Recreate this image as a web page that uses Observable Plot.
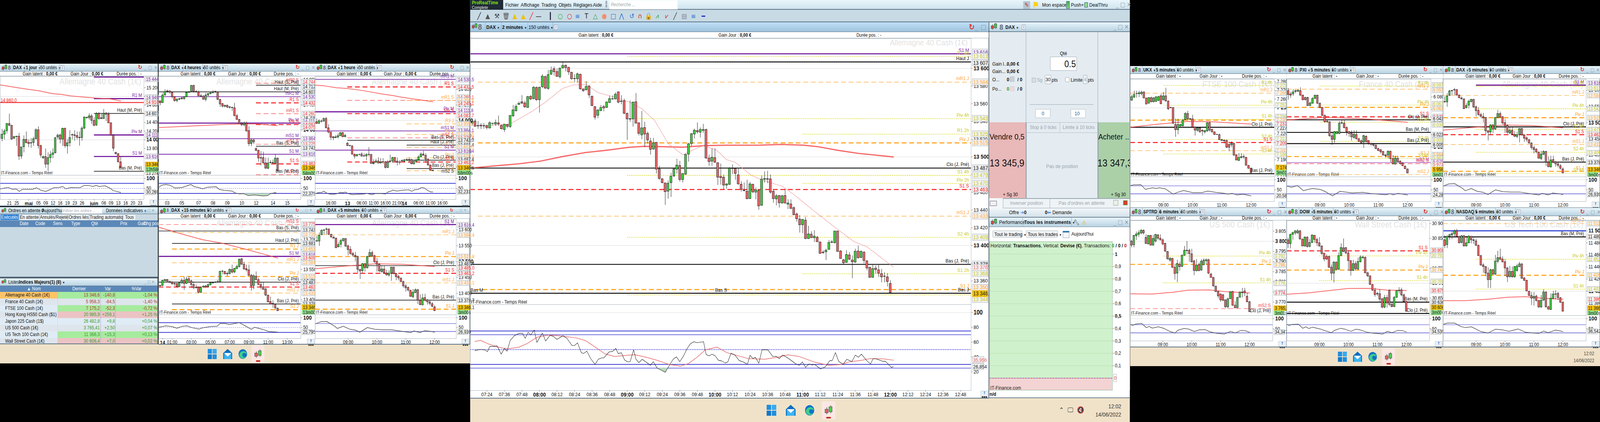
<!DOCTYPE html>
<html lang="fr"><head><meta charset="utf-8"><title>ProRealTime DAX</title>
<script src="https://cdn.jsdelivr.net/npm/d3@7"></script>
<script src="https://cdn.jsdelivr.net/npm/@observablehq/plot@0.6"></script>
<style>
html,body{margin:0;padding:0;background:#000;overflow:hidden}
#stage{position:absolute;left:0;top:0;width:4652px;height:1080px;background:#000;overflow:hidden;font-family:"Liberation Sans",Arial,sans-serif;color:#111;transform-origin:0 0}
#stage div{position:absolute;white-space:nowrap;box-sizing:border-box}
#stage svg{position:absolute;overflow:visible}
</style></head><body><div id="stage"></div>
<script>
// ---------- values: [open, close, high, low] ----------
const dax2m=[[13538,13540,13543,13535],[13540.3,13534.3,13542.7,13534],[13535.3,13534.8,13540.3,13531.6],[13535.6,13534.8,13537.9,13531.3],[13535.3,13534.8,13537.9,13531.6],[13535.1,13532.9,13536.4,13530.8],[13532.4,13538.4,13540.3,13532.1],[13537.6,13537.9,13537.9,13535.6],[13537,13538.7,13541.9,13534.8],[13538.3,13537,13546.5,13534.8],[13535.3,13531.6,13536.4,13530.8],[13530.7,13536.8,13537.1,13528],[13536.4,13534.3,13537.1,13532.4],[13534,13546.6,13546.6,13532.4],[13546.1,13552.9,13558.5,13545],[13551.8,13556.9,13559.2,13551.3],[13559.1,13560.3,13562.4,13558.5],[13562.1,13560.5,13569.5,13559.2],[13560.8,13556.4,13563.2,13555],[13555.6,13567.9,13568.7,13555.3],[13568.2,13565.2,13569.5,13563.7],[13565.5,13578.5,13579.8,13564.8],[13578.2,13564.3,13579.3,13563.2],[13564.4,13578.5,13579,13549.8],[13579,13591,13593.2,13577.4],[13590.5,13577.4,13591.6,13576.6],[13577.1,13592.7,13597.9,13575.5],[13593.2,13597.6,13601.8,13592.4],[13599.3,13596,13601.8,13591.6],[13596.2,13590.8,13599.5,13590],[13590.3,13599.8,13601,13588.4],[13600.3,13603,13606.6,13599.5],[13603.3,13600.7,13603.9,13596.3],[13601,13595.8,13601.4,13592.4],[13595.4,13588.1,13595.5,13586.9],[13588.4,13588.1,13593.2,13583.7],[13588,13593.6,13595,13583.7],[13593.2,13576.6,13593.5,13575.8],[13576.5,13574.5,13577,13573.4],[13575.5,13579.4,13585.3,13575],[13579.9,13569.8,13580.5,13566.3],[13568.4,13557.7,13568.7,13557.2],[13556.6,13544.6,13556.9,13541.9],[13546.8,13552.8,13553.7,13543.5],[13552.1,13555.6,13558.5,13551.3],[13556.6,13555.1,13558.5,13551.3],[13555.6,13561.8,13562.4,13555.3],[13561.1,13565.7,13568.7,13560.8],[13565.4,13565.1,13569.2,13564.4],[13565.2,13570.6,13572.6,13564.8],[13573.3,13561.6,13573.4,13560.3],[13562.9,13562.4,13569.5,13559.2],[13563.2,13549,13565.5,13548.2],[13549,13542.7,13549.8,13519],[13543,13542.4,13563.5,13539.5],[13542.7,13561.6,13562.4,13534],[13562.1,13537.9,13571.9,13537.6],[13538.3,13526.4,13538.7,13524],[13524.7,13532.6,13551.7,13519.8],[13532.9,13525.6,13539.5,13511.1],[13526.4,13519,13528.5,13515],[13517.7,13508.3,13521.4,13502.4],[13508.7,13515.8,13521.4,13508],[13516.3,13485.9,13516.6,13481.1],[13486.2,13475.4,13489.8,13474],[13475.1,13470.7,13475.6,13470.1],[13470.4,13460.6,13470.9,13445.6],[13461.1,13470.1,13473.2,13452.7],[13470.7,13478,13481.9,13454.6],[13478.3,13486.2,13487.4,13477.2],[13485.9,13490.6,13497.7,13481.1],[13490.1,13474.3,13495.3,13472],[13474.3,13481.1,13481.1,13470.9],[13480.3,13502.7,13503.2,13479.5],[13502.9,13514.6,13515.8,13494.5],[13514.9,13526,13526.9,13511.9],[13525.6,13530,13531.6,13520.6],[13529.6,13528.1,13538.7,13526.1],[13527.7,13530.8,13533.2,13521.8],[13529.6,13530.8,13537.1,13526.9],[13530.8,13498.5,13531.6,13497.7],[13498.5,13494.5,13502.4,13489.8],[13495,13499.4,13509.5,13489.8],[13499,13493.8,13509.5,13493],[13493.3,13476.9,13493.4,13468.2],[13477.7,13476.4,13492.2,13468.5],[13476.9,13468,13479.9,13463],[13467.9,13469.3,13470.1,13463.8],[13468.8,13487,13488.2,13468.2],[13486.7,13487,13491.4,13480.3],[13486.7,13481.1,13487.4,13474],[13479.5,13469.3,13486.7,13468.5],[13469,13463,13472.4,13460.6],[13461.9,13461.6,13470.9,13461.2],[13461,13452.6,13474,13451.9],[13452.7,13469.3,13471.7,13452.4],[13469,13460.3,13469.3,13459],[13460,13462.7,13465.3,13451.9],[13461.9,13444.5,13463,13440.1],[13445.1,13474.8,13478.8,13444.8],[13474.5,13475.4,13483.5,13470.9],[13475.3,13474.5,13484,13470.1],[13475,13460,13479.9,13458.2],[13461.1,13452.7,13462.2,13448],[13452.4,13455.9,13457.8,13445.1],[13456.2,13448,13456.7,13442.5],[13447.7,13455.9,13457.1,13447.2],[13456.2,13447.7,13463.8,13447.2],[13446.4,13447.7,13451.9,13440.9],[13446.7,13441.7,13451.9,13440.9],[13442.5,13434.6,13444,13433.8],[13435.4,13430,13437,13426.5],[13429.6,13423.2,13434.1,13414.4],[13423.2,13429.3,13429.6,13413.6],[13428.4,13407.6,13431.9,13406.8],[13407.6,13412.9,13422,13407.1],[13412.6,13408.6,13415.9,13408.3],[13408.5,13410.4,13417.1,13403.8],[13409.2,13404,13410.6,13403.8],[13403.8,13390.9,13404.1,13390.4],[13392.4,13391.6,13394.6,13390.4],[13392.7,13394.5,13396.2,13383.3],[13395.4,13403.3,13406,13395],[13403.4,13403.9,13406,13402.2],[13402.9,13416.2,13416.2,13402.2],[13416.2,13393.1,13416.2,13392.7],[13393.6,13385.1,13394.6,13384.8],[13383.6,13380.2,13384.8,13377.9],[13380.7,13389.6,13394.6,13380.2],[13389.2,13384.3,13392.4,13383.3],[13383.4,13381.3,13388.6,13362.8],[13381,13393.3,13396.2,13380.2],[13393.6,13385.8,13399.7,13385.2],[13386.3,13393.3,13393.9,13385.5],[13392.4,13382.8,13393.1,13379.5],[13382.5,13374.4,13382.8,13371.9],[13375.2,13363.8,13375.7,13363.2],[13363.8,13373.7,13377.9,13363.5],[13374.2,13372.6,13377.2,13368.1],[13372.3,13368.5,13377.9,13364.3],[13368.1,13364.3,13373.4,13358.2],[13365.3,13365,13369.6,13358.2],[13364.4,13359.1,13368.5,13353.6],[13357,13346.8,13360.5,13346.5]];
const maThickN=[-4.1,3.4,10.9,18.4,25.9,33.4,40.9,48.4,53.6,59.6,67.1,74.6,82,93.4,101,108.4,113.5,120,127,139];
const maThickV=[13487.9,13490.1,13492.2,13495.3,13500.4,13504.8,13507.5,13510.8,13511.9,13511.6,13511,13512.8,13513.2,13513.3,13514.1,13513.2,13511.4,13507.5,13504,13500];
const maDashN=[1.5,7.9,15.4,20.6,25.9,29.6,34,38,42.4,48.4,53,57.4,62,67,71,74,78.4,82,85,90.3,94,101,105,112,119,125.5,130,139];
const maDashV=[13535.6,13537.1,13551.3,13563.2,13577.4,13581.3,13581.6,13572.7,13568.7,13562.4,13554.5,13541.1,13515,13502.4,13508.7,13512.7,13508,13496.9,13493.8,13479.5,13474,13466.9,13457.5,13438.7,13420.5,13404.5,13398.5,13375.7];
const rsi2mN=[-4.1,-2.1,-0.7,0.2,1,2.6,3.5,4.9,6,6.9,8,9.4,11,12.2,13.1,14.1,15,16.2,17.1,19,20.1,21.6,22.7,24,26,27.4,29.1,30,31,32.3,33,34.2,35.5,37,38.1,39.2,40,41.8,43,44.1,44.9,46,47.1,48.2,49,50.2,51,52,53.1,54.4,55.9,56.9,58.2,59.8,61,62.3,63.7,64.8,66,67.2,68.5,69.6,70.8,71.9,74.1,75,76,77,78.1,79.2,80.3,81.5,82.4,83.5,84.8,86.3,87.7,89.1,90,91,91.8,93,94.1,96.1,97.8,98.9,100,101.2,102.9,105.7,106.8,107.9,109,110.2,111.3,112.1,114.1,115.8,117.3,118.1,119.2,120.3,121.8,123.1,124.8,126,127.1,128.1,129.9,131.2,132.1,133.3,135.3,136.3,137.2,138.3,139];
const rsi2mV=[48.7,50.2,49.6,47.1,54.2,54.2,55.1,43.8,51.5,47.8,62.4,68.7,72,72,65.1,73.3,69.6,76.5,59.6,72.4,61.5,69.3,67.8,63.8,68.7,65.1,55.5,55.5,59.1,46,44.6,47.8,37.8,30,36.9,38.7,38.7,46.9,47.5,51.5,44.6,45.7,36,33.3,33.7,49.6,36.9,32.4,36.9,33.3,28.8,33.7,25.1,22,19.3,27.9,36.9,40.2,33.7,41,51.5,57.8,60.6,59.3,60.6,43.3,41.5,43.8,41.5,35.5,34.7,31.8,33.3,45.1,42.7,35.1,33.3,30,42.4,37.8,39.7,31.5,49.6,49.6,40.6,41,37.8,42.7,38.7,30.6,28.8,33.3,26,30.6,29.1,30,23.8,26.9,35.1,35.1,46,34.2,30,36.9,33.7,42.4,39.7,43.8,35.1,30.6,37.8,37.3,34.2,34.2,30.6,26,26.9];
const rsiMa2mN=[-4.1,-2.1,0.4,3.8,7.1,11,13.9,17.3,21.2,25.7,30.2,33.6,36.4,40.4,43.7,47.1,50.5,54.4,57.8,62.3,66.3,69.1,71.9,74.7,78.7,82,86,89.4,95,99.5,102.9,106.8,111.9,116.9,120.9,124.3,128.2,131,135.5,139.1];
const rsiMa2mV=[60.9,62.4,57.8,53.3,51,53.3,58.4,66.9,69.6,68.2,66,62.4,55.1,44.2,40.6,42,43.1,39.7,36,30,27.5,31.5,39.7,49.6,53.3,46,41.5,37.8,36.9,39.7,42.9,40.6,33.3,28.8,29.7,33.7,35.5,37.8,37.5,35.7];

const dax1d=[[14027,14126,14246,13961],[14126,14201,14246,14006],[14207,14372,14381,14141],[14372,14330,14597,14306],[14330,14012,14336,14000],[14030,14072,14081,14021],[14072,14081,14081,13856],[14078,13622,14156,13532],[13622,13832,13832,13556],[13838,14006,14096,13706],[14006,13931,14186,13916],[13940,13910,14006,13826],[13922,13931,14036,13811],[13931,14021,14066,13856],[14021,14228,14261,14006],[14228,13862,14306,13796],[13862,13646,13886,13586],[13580,13610,13631,13556],[13610,13436,13796,13352],[13436,13586,13706,13280],[13586,13658,13736,13466],[13658,13694,13796,13571],[13694,14042,14066,13691],[14060,14102,14141,14006],[14108,14012,14141,13916],[14012,14261,14276,13856],[14261,13862,14276,13811],[13856,13928,14006,13676],[13928,14048,14216,13841],[14108,14117,14141,14006],[14111,14096,14216,13976],[14096,14054,14186,14006],[14054,14045,14186,13862],[14048,14264,14306,13976],[14264,14522,14531,14246],[14504,14513,14531,14486],[14504,14549,14606,14456],[14546,14444,14591,14366],[14444,14330,14516,14306],[14336,14600,14636,14315],[14600,14486,14636,14456],[14504,14486,14591,14471],[14486,14606,14705,14480],[14612,14582,14636,14426],[14582,14387,14630,14381],[14387,14105,14396,14090],[14105,13802,14126,13736],[13706,13676,13721,13661],[13676,13487,13691,13481],[13487,13352,13601,13346]];
const ma1dI=[-49.75,-45.6,-39.75,-33.9,-28.1,-24.75,-20.6,-14.75,-9.75,-4.75,0];
const ma1dV=[15266,15227,15176,15131,15062,15047,15011,14981,14960,14945,14897];
const rsi1dI=[-49.75,-48,-46.4,-44.75,-43.1,-41.9,-40.6,-36.4,-34.75,-33.1,-31,-28.9,-27.75,-25.6,-23.9,-22.7,-20.6,-16.9,-15.2,-13.1,-11.4,-10.2,-8.9,-6.4,-4.3,-3.1,0];
const rsi1dV=[46.8,52,54.5,45.5,46.8,35,45.5,45.5,53.2,41.6,35,45.5,53.2,54.5,59.7,48,54.5,53.2,64.3,64.3,59.7,64.9,59.7,63,50,39,29.9];

const dax4h=[[14460,14433,14470,14392],[14433,14553,14584,14429],[14553,14611,14646,14549],[14619,14611,14640,14590],[14621,14598,14625,14574],[14598,14528,14605,14501],[14528,14466,14536,14445],[14466,14491,14495,14439],[14487,14495,14512,14474],[14508,14495,14522,14481],[14495,14528,14536,14481],[14528,14596,14605,14522],[14596,14603,14619,14590],[14609,14706,14714,14598],[14706,14611,14718,14594],[14611,14605,14632,14594],[14605,14543,14625,14528],[14543,14536,14574,14522],[14536,14487,14553,14481],[14485,14553,14590,14454],[14553,14578,14590,14536],[14578,14588,14605,14563],[14588,14605,14632,14584],[14605,14611,14625,14584],[14605,14485,14611,14474],[14485,14412,14491,14367],[14417,14377,14429,14357],[14375,14392,14398,14357],[14392,14363,14402,14346],[14367,14359,14377,14336],[14359,14354,14367,14305],[14352,14226,14429,14218],[14226,14166,14253,14160],[14166,14102,14175,14098],[14104,14081,14129,14061],[14081,14108,14135,14057],[14108,13984,14135,13974],[13988,13782,14057,13742],[13784,13840,13860,13742],[13840,13809,13854,13777],[13705,13674,13722,13664],[13676,13554,13684,13494],[13560,13554,13664,13436],[13560,13478,13653,13467],[13478,13391,13560,13385],[13391,13474,13560,13374],[13480,13486,13519,13467],[13484,13476,13529,13461],[13471,13552,13612,13461],[13552,13347,13560,13343]];
const ma4hI=[-0.7,9,17.5,25.8,34,40.7,48.8];
const ma4hV=[14040,14057,14073,14088,14098,14098,14071];
const rsi4hI=[-0.7,0.6,2.3,4,6.1,9,12.8,14,16,17.7,19.8,23.3,24.6,26.7,30,31.3,33,34.7,36.8,39.3,42.7,44.8,46,48,48.8];
const rsi4hV=[54.5,66.2,69.5,66.2,52,54.5,69.5,59.7,54.5,48,56.5,58.4,45.5,40.3,37,27.3,22.7,24,14.3,17.5,12.3,14.3,24,29.2,24];
const rsi4hFill=[[31.5,25],[33,22.7],[34.7,24],[36.8,14.3],[39.3,17.5],[42.7,12.3],[44.8,14.3],[46,25]];

const dax1h=[[13981,13959,14023,13952],[13959,13993,14015,13956],[13986,13989,14010,13969],[13988,14023,14036,13986],[14023,13902,14043,13899],[13902,13847,13947,13830],[13847,13781,13850,13744],[13786,13774,13796,13741],[13774,13786,13808,13771],[13784,13801,13830,13763],[13801,13840,13847,13796],[13840,13786,13850,13783],[13788,13806,13821,13779],[13705,13672,13717,13667],[13675,13672,13682,13662],[13670,13563,13672,13556],[13563,13536,13566,13502],[13539,13556,13569,13532],[13558,13559,13569,13543],[13564,13537,13586,13532],[13541,13537,13573,13532],[13539,13559,13573,13482],[13561,13558,13653,13532],[13559,13442,13563,13438],[13438,13452,13494,13432],[13457,13474,13502,13452],[13474,13447,13522,13443],[13447,13460,13511,13443],[13464,13460,13511,13438],[13464,13391,13469,13376],[13391,13462,13485,13381],[13474,13469,13556,13455],[13474,13519,13527,13452],[13519,13474,13526,13465],[13472,13457,13519,13415],[13460,13457,13485,13427],[13475,13480,13495,13465],[13469,13489,13499,13460],[13487,13492,13511,13469],[13492,13487,13519,13452],[13494,13437,13502,13432],[13435,13469,13477,13432],[13469,13489,13499,13460],[13489,13527,13549,13482],[13527,13564,13586,13522],[13564,13547,13606,13542],[13547,13499,13573,13452],[13499,13422,13506,13415],[13422,13356,13427,13351],[13356,13348,13359,13346]];
const ma1hI=[-0.6,3.4,8.2,13,17.9,22.7,27.5,32.4,34.8,39.6,44.4,49];
const ma1hV=[14456,14446,14423,14413,14393,14369,14342,14320,14305,14283,14262,14241];
const rsi1hI=[-0.6,1,2.2,3,3.9,5.3,7.2,8.7,9.9,11.1,12.1,13.3,15,16.9,19.8,21.3,23.2,24.6,27.5,29,30,31.4,32.1,33.8,36.7,38.9,40.1,41.3,42.8,44.2,45.4,46.9,48.1,49];
const rsi1hV=[24,29.9,30.5,36.4,28.6,22,20.8,24,30.5,28.6,31.8,24,19.5,20.8,22,25.3,19.5,24,24,22,32.5,37,41.6,37,41.6,42.9,35.7,43.5,44.8,54.5,52,39,32.5,32.5];

const dax15m=[[13468,13470,13473,13465],[13470,13495,13499,13468],[13493,13500,13502,13492],[13500,13492,13502,13489],[13491,13485,13492,13482],[13487,13478,13491,13475],[13480,13478,13485,13468],[13480,13464,13482,13463],[13464,13483,13489,13463],[13483,13496,13506,13478],[13496,13480,13513,13448],[13480,13502,13514,13478],[13504,13493,13516,13482],[13493,13475,13499,13458],[13475,13459,13489,13451],[13461,13459,13475,13455],[13461,13436,13463,13432],[13436,13461,13465,13432],[13463,13466,13472,13458],[13463,13468,13472,13461],[13465,13474,13482,13461],[13473,13484,13489,13472],[13483,13485,13489,13478],[13485,13487,13492,13483],[13487,13489,13499,13485],[13488,13541,13543,13487],[13541,13542,13547,13526],[13540,13528,13543,13526],[13531,13528,13540,13516],[13529,13551,13554,13526],[13550,13537,13574,13530],[13537,13556,13557,13533],[13554,13565,13574,13552],[13564,13601,13605,13560],[13603,13576,13608,13574],[13576,13552,13588,13550],[13554,13548,13574,13540],[13548,13521,13574,13518],[13521,13468,13528,13444],[13470,13519,13526,13451],[13516,13499,13540,13496],[13499,13475,13509,13472],[13475,13463,13489,13451],[13463,13451,13487,13448],[13453,13422,13458,13418],[13422,13388,13424,13386],[13390,13378,13414,13376],[13381,13378,13396,13359],[13377,13358,13379,13349],[13357,13344,13359,13343]];
const ma15mI=[-0.6,9.1,17.5,25.9,34.3,42.7,49];
const ma15mV=[13762,13728,13700,13682,13656,13629,13608];
const rsi15mI=[-0.6,2.4,4.9,7,9.1,11.2,13.3,16.2,17.5,20.8,23.7,25,27.1,28.8,33,35.5,38,39.3,42.7,45.2,49];
const rsi15mV=[51.4,58.5,54.9,46.5,56.3,58.5,49.3,42.3,47.9,54.9,56.3,70.4,70.4,65.5,74.6,58.5,40.8,51.4,40.8,30.3,26.8];

const dax5m=[[13565,13564,13581,13562],[13564,13582,13591,13549],[13584,13598,13601,13583],[13598,13599,13602,13585],[13601,13602,13607,13585],[13602,13585,13603,13584],[13585,13577,13587,13575],[13576,13573,13581,13573],[13573,13543,13575,13542],[13546,13553,13560,13544],[13554,13566,13571,13544],[13565,13572,13573,13562],[13572,13548,13573,13546],[13549,13537,13553,13519],[13538,13525,13548,13521],[13525,13520,13530,13515],[13519,13515,13530,13501],[13516,13475,13517,13464],[13475,13470,13476,13445],[13471,13493,13495,13464],[13493,13480,13495,13468],[13480,13516,13517,13478],[13516,13528,13539,13514],[13528,13517,13534,13515],[13518,13499,13521,13495],[13500,13491,13511,13468],[13491,13470,13495,13466],[13468,13476,13487,13465],[13476,13464,13487,13462],[13463,13458,13474,13455],[13457,13463,13472,13452],[13463,13482,13482,13439],[13482,13462,13483,13460],[13462,13452,13464,13441],[13453,13448,13458,13441],[13447,13437,13450,13435],[13437,13423,13439,13417],[13423,13417,13429,13405],[13418,13410,13421,13405],[13409,13390,13411,13389],[13389,13403,13413,13384],[13402,13411,13415,13400],[13411,13378,13413,13366],[13378,13364,13396,13362],[13363,13385,13398,13362],[13386,13378,13398,13374],[13379,13373,13382,13364],[13373,13368,13378,13362],[13367,13359,13372,13355],[13357,13345,13362,13344]];
const ma5mI=[-0.7,12.25,24.75,36,49];
const ma5mV=[13477.5,13486.3,13493.1,13491.5,13484.3];
const rsi5mI=[-0.5,1.6,4.1,7.25,8.5,11,13.5,16,17.9,21,24.1,27.25,31,36,39.1,40.4,42.9,44.75,47.25,49];
const rsi5mV=[69.2,79.5,80.8,58.3,45.5,56.4,42.3,37.2,26.3,50,41,39.1,39.1,29.5,24.4,32.7,24.4,34,30.8,26.3];

const ukx5m=[[7258.5,7262.5,7265,7258],[7262,7265,7269.5,7261],[7266,7266.2,7269.5,7261.5],[7266,7267,7269.5,7262],[7266,7267.7,7269.5,7264],[7268,7261,7268.7,7261],[7261,7254,7261.5,7254],[7255,7261.5,7262,7255],[7261.5,7256.7,7262.5,7256],[7256.7,7261.2,7262,7256],[7257,7262.4,7263,7256.7],[7258.2,7262.7,7263.5,7257.5],[7263.5,7254.5,7265.7,7253.7],[7259,7263.5,7268,7258.2],[7263.5,7257.5,7272.8,7257],[7257.5,7248.5,7258.2,7247],[7250,7250.3,7250.7,7249],[7250,7232,7250.4,7231.2],[7230.5,7224.5,7237.2,7216.2],[7224.5,7230.5,7237.2,7219.2],[7228.7,7230.5,7231.2,7228.2],[7229,7235.7,7236.5,7228.2],[7236,7243.2,7244.7,7235.7],[7243.2,7237,7246.2,7235.7],[7237.2,7236.5,7238,7235.7],[7237,7227.5,7241.7,7226.7],[7227.5,7224,7228.2,7217.7],[7223.7,7226.5,7227.5,7222.2],[7226.5,7222.2,7227.5,7220.7],[7223.7,7223,7225.2,7217.7],[7222,7223.5,7224,7220],[7223,7232.5,7233.5,7222.2],[7232.7,7224,7233.5,7222.2],[7225,7222.2,7225.5,7220.7],[7222,7219,7222.5,7218.3],[7219.2,7219,7219.5,7218.3],[7218.8,7213,7220,7212.5],[7213,7212,7214,7211.7],[7212.5,7211.7,7213,7208.7],[7212,7204.2,7213.2,7203.5],[7207.5,7204.2,7208.7,7199.7],[7207,7209,7211,7204.2],[7208.7,7195.2,7209,7194.5],[7195.5,7189.5,7196,7189.2],[7189,7192.5,7197.5,7188.5],[7192.2,7193.5,7197.5,7191.5],[7193.5,7193,7196,7191],[7192.7,7183.5,7193,7183.2],[7183.2,7180,7184,7179.5],[7180,7175,7181,7174.5]];
const maUkxI=[-0.6,11.1,23.1,32,49];
const maUkxV=[7227.5,7231.2,7234.2,7234,7231.2];
const rsiUkxI=[-0.6,0.6,3.75,5.6,6.9,8.75,10,11.25,13.75,16.9,18.75,21.25,25,28.75,31.25,34.4,38.1,39.4,41.25,43.1,45.6,49];
const rsiUkxV=[71.2,74.4,75.6,51.9,56.4,60.3,56.4,60.3,55.1,28.2,37.2,46.8,35.9,35.9,43.6,37.2,32.7,28.2,32.7,24.4,28.2,19.9];

const pxi5m=[[6090,6083.7,6094,6075.4],[6084.8,6082.7,6087.9,6078.5],[6084.8,6087.9,6092,6081.6],[6088.5,6090,6091.4,6085.8],[6089,6090.6,6092,6087.9],[6090,6082.7,6095.2,6081.6],[6082.7,6075.4,6083.7,6074.3],[6078.9,6075.4,6080.2,6074.3],[6078.9,6066,6080.2,6065.6],[6066,6070.2,6072.3,6065.6],[6069.7,6077.5,6079.5,6069.1],[6077.5,6082.7,6083.1,6076.4],[6082.7,6069.7,6083.1,6068.9],[6069.7,6062.9,6071.2,6061.8],[6062.9,6050.4,6063.9,6049.3],[6050.4,6040,6051.4,6038.9],[6041,6040,6043,6038.5],[6040,6017.6,6041,6016],[6017.6,6011.8,6024.3,6003],[6011.8,6024.3,6025.3,6006.6],[6021.2,6024.3,6025.3,6020.1],[6021.2,6037.8,6041,6020.1],[6037.8,6038.5,6043,6036.8],[6037.8,6030.6,6043,6029.5],[6031,6024.3,6032.6,6018],[6024.3,6021.2,6025.3,6016],[6022.2,6016,6026.4,6009.7],[6014.9,6020.1,6026.4,6012.8],[6019.7,6012.8,6026.4,6011.8],[6012.8,6008.7,6014.9,6007.6],[6009.7,6006.6,6011.8,6005.5],[6007.6,6018,6019.1,5998.2],[6017,6008,6018,6007.2],[6010,6005.5,6010.7,6003.4],[6005.5,6003.9,6006.6,6001.4],[6004.5,6002.4,6005.5,6000.3],[6002.4,5997.2,6004.5,5996.1],[5997.2,5994,5998.2,5993],[5995,5992,5997.2,5988.9],[5992.6,5986.8,5993,5985.7],[5987,5985.5,5988.9,5982.6],[5986.8,5993,5994,5981.5],[5993,5981,5993.4,5975.3],[5981,5972.6,5986.8,5971.8],[5972.2,5982,5985.7,5971.8],[5981.5,5976.3,5985.7,5975.3],[5977,5973.2,5978.4,5971.1],[5973.8,5969.7,5975.3,5969],[5969,5964.9,5970,5964.2],[5964.5,5958,5964.9,5957.6]];
const maPxiI=[-0.6,8.1,14.4,20.6,33.1,49];
const maPxiV=[6043,6045.6,6047.2,6046.8,6044.7,6039.5];
const rsiPxiI=[-0.6,1.25,3.75,6.25,8.1,10,13.1,15,18.1,21.25,26.25,30.6,34.4,40,41.9,43.1,45,49];
const rsiPxiV=[67.9,62.8,71.2,45.5,51.9,56.4,51.9,42.3,19.9,42.3,34.6,37.2,30.8,25,30.8,24.4,32.7,24.4];

const sp5m=[[3800,3798,3800.6,3796.9],[3798.2,3802.8,3803,3796.9],[3802.6,3803.5,3804.7,3800.6],[3803.3,3804.1,3805.3,3802],[3804,3805.3,3806,3803.3],[3805.3,3804,3805.8,3803.3],[3801.8,3798.8,3803.3,3798.6],[3798.6,3802.8,3803,3798.4],[3802.8,3798,3803,3797.8],[3798,3801.3,3803,3797.8],[3800,3803.3,3803.5,3799.3],[3803.1,3801.4,3803.3,3800.6],[3801.4,3800.6,3803.3,3800.3],[3800.6,3798.6,3801.3,3797.9],[3798.9,3795.1,3799.1,3794.5],[3794.9,3791.3,3795.1,3790.8],[3790.6,3791.5,3792.1,3789.8],[3791.5,3787.1,3791.7,3786.7],[3787.1,3784,3788.8,3781],[3784.2,3789,3790.8,3779.8],[3788.6,3787.4,3789.8,3785.4],[3787.5,3793,3793.5,3787.2],[3793,3795.5,3797.6,3792.8],[3795.5,3795.3,3800,3793.5],[3795.5,3793.8,3796.2,3789.8],[3793.7,3789.8,3796.2,3789.4],[3790.2,3785.5,3790.8,3783.2],[3785.4,3788.2,3791.1,3785],[3788.4,3785.4,3789.4,3785.2],[3785.7,3790.1,3791.1,3785.4],[3788.3,3790.6,3791.5,3788.1],[3790.3,3790.8,3791.5,3788.4],[3790.8,3784.2,3791.3,3783.7],[3783.7,3782.1,3784.4,3782],[3782.1,3777.9,3782.3,3777.6],[3777.8,3775.1,3777.9,3774.9],[3775.1,3773,3775.6,3771.8],[3773.9,3771,3774.2,3770],[3773.5,3770.8,3773.9,3770.5],[3771,3767.6,3771.2,3767.1],[3767.6,3771.5,3772.2,3766.7],[3771.6,3775,3775.4,3771.4],[3775.2,3768.4,3775.4,3768.1],[3768.4,3767.1,3770.3,3766.9],[3767.2,3772.2,3772.5,3766.9],[3772.3,3774.9,3775.2,3772.2],[3774.9,3774.7,3776.9,3772.2],[3775.4,3774.5,3776.9,3772.8],[3772.8,3770.1,3774.5,3769.8],[3770.1,3765.2,3770.5,3765]];
const maSpI=[-0.5,8.6,17.4,23.6,32.4,38.6,49];
const maSpV=[3774.1,3774,3774.9,3775.9,3776,3775.2,3774.5];
const rsiSpI=[-0.5,0.5,1.75,4.25,6.1,7.4,8.6,11.1,13.6,15.5,18,19.25,21.75,23.6,26.1,28,30.5,32.4,35.5,38.6,41.1,43,45.5,47.4,49];
const rsiSpV=[71.6,66.9,73.6,76.4,56.1,61.5,53.4,60.1,51.4,39.2,29.1,43.2,51.4,49.3,36.5,44.6,46.6,35.8,27.7,24.3,37.8,29.7,42.6,39.9,33];

const dow5m=[[30844.7,30831.8,30851.6,30817.1],[30831.8,30863.1,30865.4,30816.2],[30863,30869,30872,30845],[30868,30875,30877,30861],[30868,30875,30881,30865],[30875,30848,30877,30845],[30847,30824,30849,30823],[30824,30854,30856,30822],[30854,30822,30856,30819],[30823,30836,30847,30819],[30836,30861,30863,30834],[30860,30846,30861,30835],[30846,30835,30852,30824],[30835,30824,30854,30822],[30824,30799,30826,30794],[30800,30781,30801,30773],[30789,30780,30796,30778],[30789,30753,30792,30750],[30753,30733,30762,30710],[30733,30770,30773,30702],[30770,30746,30772,30743],[30746,30792,30803,30744],[30792,30819,30833,30790],[30818,30806,30849,30803],[30819,30801,30819,30796],[30801,30775,30808,30741],[30775,30742,30776,30725],[30742,30765,30778,30740],[30765,30748,30773,30744],[30747,30772,30785,30744],[30771,30787,30793,30769],[30785,30787,30792,30780],[30786,30734,30789,30733],[30734,30724,30738,30720],[30724,30695,30725,30694],[30695,30676,30697,30673],[30676,30661,30684,30654],[30665,30663,30670,30656],[30664,30646,30679,30638],[30647,30619,30649,30615],[30619,30651,30660,30615],[30651,30633,30660,30617],[30676,30628,30678,30623],[30629,30621,30634,30618],[30621,30652,30656,30619],[30652,30674,30676,30650],[30674,30676,30686,30665],[30677,30660,30684,30655],[30660,30638,30665,30636],[30638,30605,30640,30604]];
const maDowI=[-0.5,8.6,18.6,24.9,33.6,41.1,49];
const maDowV=[30662.8,30667.5,30676.7,30682.2,30682.6,30676.7,30675.3];
const rsiDowI=[-0.5,0.5,1.75,4.25,6.1,7.4,8.6,10.1,13.6,15.5,18,19.25,21.75,23.6,26.1,28,29.9,32.4,34.9,39.25,41.1,43,45.5,47.4,49];
const rsiDowV=[71.6,66.9,71.6,73,52.7,60.1,51.4,58.1,48,39.9,31.1,42.6,52.7,48,37.8,48,44.6,34.5,29.1,24.3,37.8,31.1,42.6,41.2,34.5];

const nas5m=[[11484.8,11475.2,11492.7,11471.1],[11476.8,11490.4,11492.7,11471.1],[11490.4,11493.2,11495,11484.8],[11492.7,11495,11498.4,11485.9],[11495,11499.6,11501.8,11489.3],[11499.6,11490.4,11503,11489.3],[11490.4,11479.7,11491.6,11479],[11480.2,11491.6,11492.7,11479],[11491.6,11474.5,11492.7,11473.8],[11474.5,11479.7,11491.6,11473.8],[11479.7,11490.9,11492.7,11479],[11490.4,11484.8,11491.6,11479],[11484.8,11483.6,11488.2,11477.9],[11482.9,11475.6,11487,11474.5],[11475.6,11458.6,11476.8,11457.9],[11458.6,11443.1,11459.7,11441.5],[11443.1,11440.4,11446,11430.1],[11440.4,11429.6,11441.5,11424.4],[11429.6,11418.7,11439.2,11405.1],[11418.7,11435.1,11436.9,11404.6],[11435.1,11427.8,11436.9,11426.7],[11427.8,11449.5,11459.7,11426.7],[11449,11455.2,11466.5,11446],[11455.6,11452.4,11470,11451.7],[11452.9,11448.3,11457.4,11447.2],[11448.3,11438.1,11452.9,11424.4],[11438.1,11423.3,11439.2,11414.6],[11423.7,11432.4,11441.5,11422.1],[11432.4,11423.3,11440.4,11422.1],[11423.3,11440.4,11441.5,11422.1],[11433.5,11441.5,11444.9,11432.4],[11440.4,11444.9,11448.3,11439.2],[11444.9,11421,11445.6,11419.9],[11421.4,11417.6,11423.3,11416.4],[11417.6,11400,11418.7,11399.4],[11399.4,11392.5,11400,11391.4],[11392.5,11388,11398.2,11376.6],[11388,11390.9,11398.2,11375.5],[11391.4,11384.1,11393.7,11382.3],[11384.1,11373.6,11385,11371.4],[11373.2,11384.6,11393,11372],[11384.6,11398.2,11402.8,11384],[11398.2,11373.6,11399,11372.5],[11373.6,11369.8,11376,11369],[11369.1,11388,11396,11368.5],[11387.3,11394.8,11400,11387],[11394.5,11395,11401,11386],[11396,11389,11398.5,11385],[11388.7,11381.1,11390,11380],[11381.1,11366.4,11383,11365.9]];
const maNasI=[-0.6,8.5,18.5,26,33.5,41,49];
const maNasV=[11384.1,11384.1,11386.8,11389.8,11390.7,11388,11386.4];
const rsiNasI=[-0.6,1,4.1,6.6,8.5,11,14.75,17.9,21,24.1,26.6,30.4,33.5,37.25,39.1,41,42.9,46,49];
const rsiNasV=[71.6,78.4,78.4,61.5,56.1,60.1,37.8,29.1,48,44.6,37.8,49.3,33.1,29.1,27.7,39.2,31.1,43.9,36.5];

// level tables: [label, price, kind, first bar (null = left edge), box price (false = no box)]
const lv2m=[["S1 M",13616.4,"P",null,13618],["R1 4h",13613.2,"Y",48],["Haut J",13607.2,"K",null,13606],["mR1 J",13584.4,"o",-3],["Piv 4h",13543.2,"Y",48],["R1 2h",13525.7,"Y",108],["Piv J",13515.8,"O",-3],["Clo (J, Pré)",13487.4,"K",null],["S1 4h",13479.2,"Y",48],["Piv 2h",13470.1,"Y",108],["S1 S",13463.2,"R",null],["mS1 J",13433.1,"o",-3],["S2 4h",13409.2,"Y",48],["Bas (J, Pré)",13378.7,"K",null],["S1 2h",13368.1,"Y",108],["S1 J",13350.3,"O",-4,13352.5],["Bas J",13346.1,"K",null,false],["",13344.2,"Y",48,13339]];
const lv1d=[["",15444.6,"P",-11,15392],["R1 M",14949.2,"P",-11,14972],["",14860,"R0",null,false],["Haut (M, Pré)",14607.1,"k",-11,14600],["Piv M",14111.8,"P",-11,14105],["S1 M",13616.4,"P",-11,13613],["Bas (M, Pré)",13274.3,"k",-11,13226]];
const lv4h=[["mR2 S",14744.7,"r",40,14764],["Haut (S, Pré)",14712.3,"k",40,14687],["Haut (M, Pré)",14607.1,"k",null,14603],["mR1 M",14530.5,"p",null,14528],["R1 S",14432.5,"R",40,14425],["mR1 S",14260.1,"r",40,14259],["Piv M",14111.8,"P",null,14139],["Piv S",14087.7,"R",40,14088],["mS1 M",13864.1,"p",null,13860],["mS1 S",13775.4,"r",40,13777],["Bas (S, Pré)",13743,"k",40,13715],["S1 M",13616.4,"p",null,13612],["S1 S",13463.2,"R",40,13465],["mS2 S",13291,"r",40,false],["Bas (M, Pré)",13300,"none",40,false]];
const lv1h=[["mR1 M",14530.5,"p",null,14525],["R1 S",14432.5,"R",13,14430],["",14260.1,"r",13,14297],["mR1 S",14258.4,"o",38,14258],["Piv M",14111.8,"P",null,14127],["Piv S",14087.7,"R",13,14063],["R3 J",13955.7,"o",38,13954],["mS1 M",13864.1,"p",null,13868],["R2 J",13818.5,"o",38,13818],["mS1 S",13775.4,"r",13,13774],["Bas (S, Pré)",13743,"k",13,13741],["Haut (J, Pré)",13681.4,"k",38],["R1 J",13653,"o",38,13652],["S1 M",13616.4,"p",null,13603],["Piv J",13515.8,"o",38,13532],["Clo (J, Pré)",13487.4,"k",38,13494],["S1 S",13463.2,"R",13,13453],["Bas (J, Pré)",13378.7,"k",38,false],["S1 J",13350.3,"o",38,false],["mS2 S",13304,"none",38,false]];
const lv15m=[["mS1 S",13775.4,"r",null],["Bas (S, Pré)",13743,"k",null,13748],["",13735.8,"o",5,13726],["Haut (J, Pré)",13681.4,"k",5],["R1 J",13653,"O",5,13652],["S1 M",13616.4,"P",null,13625],["mR1 J",13584.4,"o",5],["Piv J",13515.8,"O",5,13515],["Clo (J, Pré)",13487.4,"k",null,13485],["S1 S",13463.2,"R",null,13462],["mS1 J",13433.1,"o",5,13431],["Bas (J, Pré)",13378.7,"k",5],["S1 J",13350.3,"O",5,false]];
const lv5mL=[["S1 M",13616.4,"P",null,13615],["mR1 J",13584.4,"o",null,13583],["Piv J",13515.8,"O",null,13515],["Clo (J, Pré)",13487.4,"k",null,13492.6],["S1 S",13463.2,"R",null,13462],["mS1 J",13433.1,"o",null,13432.5],["Bas (J, Pré)",13378.7,"k",null,13378],["S1 J",13350.3,"O",null,false]];
const lv5mR=[["S1 M",13616.4,"P",13,13621.6],["R1 4h",13613.2,"Y",13,13606.8],["mR1 J",13584.4,"o",null,13583.9],["Piv 4h",13543.2,"Y",13,13542.5],["Piv J",13515.8,"O",null,13515.2],["Clo (J, Pré)",13487.4,"K",null,false],["S1 4h",13479.2,"Y",13,13478],["S1 S",13463.2,"R",null,13463],["mS1 J",13433.1,"o",null],["S2 4h",13409.2,"Y",13,13406.8],["Bas (J, Pré)",13378.7,"K",null,13377.5],["S1 J",13350.3,"O",null,false],["S3 4h",13344.2,"Y",13,false]];
const lvUkx=[["R1 4h",7275.7,"Y",13],["mR1 J",7266.8,"o",null],["Piv 4h",7252.9,"Y",13],["S1 4h",7236.6,"Y",13,7239.5],["",7235.7,"O",null],["Clo (J, Pré)",7227.5,"K",null,7226.5],["S2 4h",7213.4,"Y",13,7214.3],["S1 S",7209.9,"R",null,7208.7],["mS1 J",7200.5,"o",null],["S3 4h",7196.7,"Y",13,7195.8],["Bas (J, Pré)",7174,"K",null,7171]];
const lvPxi=[["R1 4h",6097.7,"Y",13,6098.9],["mR1 J",6092.6,"o",null,6090.6],["Piv 4h",6067.1,"Y",13,6068.7],["Piv J",6063.5,"O",null,6061.2],["S1 S",6048.3,"R",null],["Clo (J, Pré)",6043.5,"K",null,6045],["S1 4h",6039.7,"Y",13,6035.3],["Bas (M, Pré)",6023.3,"K",null,6019.5],["S2 4h",6009.1,"Y",13,6010.5],["Bas (J, Pré)",6005.4,"K",null,6003],["S1 J",5984.7,"O",null,5987.2],["S3 4h",5981.7,"Y",13,5981.6],["mS2 M",5975,"q",null,5976],["mS2 S",5973.2,"r",null,5971.7],["mS2 J",5955.7,"o",null,false]];
const lvSp=[["Piv 4h",3792.7,"Y",13,3792.5],["Piv J",3788.6,"O",null,3788.3],["S1 4h",3779.49,"Y",13,3779.2],["mS2 S",3766.8,"r",null,false],["Clo (J, Pré)",3764.2,"none",null,false]];
const lvDow=[["S1 S",30808.5,"R",null,30809.7],["Piv 4h",30791.6,"Y",13,30793],["Piv J",30744,"O",null],["S1 4h",30708.2,"Y",13,30705],["Bas (M, Pré)",30636.3,"K",null,30635.7],["Clo (J, Pré)",30598.4,"K",null,false]];
const lvNas=[["mR1 J",11511.9,"o",null],["",11500,"B",null,false],["Bas (M, Pré)",11489.9,"K",null,11489.8],["Piv 4h",11452.9,"Y",13,11452.7],["Piv J",11426.3,"O",null,11426.2],["S1 4h",11403.3,"Y",13,11403]];

const time5m=[[13,"09:00"],[25,"10:00"],[37,"11:00"],[49,"12:00"]];
const time2m=[[0,"07:24"],[6,"07:36"],[12,"07:48"],[18,"08:00",1],[24,"08:12"],[30,"08:24"],[36,"08:36"],[42,"08:48"],[48,"09:00",1],[54,"09:12"],[60,"09:24"],[66,"09:36"],[72,"09:48"],[78,"10:00",1],[84,"10:12"],[90,"10:24"],[96,"10:36"],[102,"10:48"],[108,"11:00",1],[114,"11:12"],[120,"11:24"],[126,"11:36"],[132,"11:48"],[138,"12:00",1],[144,"12:12"],[150,"12:24"],[156,"12:36"],[162,"12:48"]];
const time1d=[[-46,"21"],[-43,"25"],[-38,"mai",1],[-34,"05"],[-31,"09"],[-28,"12"],[-25,"16"],[-22,"19"],[-19,"23"],[-16,"26"],[-11,"juin",1],[-7,"06"],[-4,"09"],[-1,"13"],[2,"16"],[5,"20"],[8,"23"]];
const time4h=[[2.9,"03"],[9,"05"],[16,"07"],[22,"08"],[28,"09"],[34,"10"],[40,"12"],[47,"14"],[53,"15"]];
const time1h=[[6,"16:00"],[13,"13",1],[19,"06:00"],[24,"11:00"],[29,"16:00"],[34,"21:00"],[37,"14",1],[43,"06:00"],[48,"11:00"],[53,"16:00"]];
const time15m=[[1,"14",1],[5,"01:00"],[13,"03:00"],[21,"05:00"],[29,"07:00"],[37,"09:00"],[45,"11:00"],[53,"13:00"]];

const listNames=["Allemagne 40 Cash (1€)","France 40 Cash (1€)","FTSE 100 Cash (1€)","Hong Kong HS50 Cash ($1)","Japon 225 Cash (1$)","US 500 Cash (1€)","US Tech 100 Cash (1€)","Wall Street Cash (1€)"];
const listLast=["13 346,6","5 958,3","7 175,2","20 985,9","26 482,8","3 765,41","11 366,3","30 606,4"];
const listVar=["-140,8","-84,5","-52,3","+259,1","+9,8","+2,50","+15,3","+7,0"];
const listPct=["-1,04 %","-1,40 %","-0,72 %","+1,25 %","+0,04 %","+0,07 %","+0,13 %","+0,02 %"];
const listTint=["#a6eb9e","#dee5ec","#a6eb9e","#ecc3c4","#dfecf5","#dee5ec","#a6eb9e","#ecc3c4"];
const orderTabs=["Exécutés","En attente","Annulés/Rejetés","Ordres liés","Trading automatique","Tous"];
const orderCols=["Date","Code","Sens","Type","Qté","Prix","Gain","Chg pos."];
const perfTicks=[0.1,0.2,0.3,0.4,0.6,0.7,0.8,0.9];
const perfBold=[0.5,1];

// ---------- styling ----------
const stage=document.getElementById("stage");
// the browser window may be narrower than the picture asked for: fit the whole screenshot into it
stage.style.transform=`scale(${innerWidth/4652},${innerHeight/1080})`;
const FONT='"Liberation Sans",Arial,sans-serif';
const GREEN="#46c846",RED="#e2686b";
const KIND={
 P:{stroke:"#6a0a96",strokeWidth:2.6},p:{stroke:"#7a2aa8",strokeWidth:1.8},q:{stroke:"#b070d0",strokeWidth:1.8},
 K:{stroke:"#111",strokeWidth:2.4},k:{stroke:"#222",strokeWidth:1.7},
 R:{stroke:"#f8191c",strokeWidth:2.4,strokeDasharray:"14,8"},r:{stroke:"#ff6060",strokeWidth:1.4,strokeDasharray:"14,8"},R0:{stroke:"#f52020",strokeWidth:2.2},
 O:{stroke:"#ff9a00",strokeWidth:2.4,strokeDasharray:"14,8"},o:{stroke:"#ffb24a",strokeWidth:1.4,strokeDasharray:"14,8"},
 Y:{stroke:"#d2d200",strokeWidth:1.3,strokeDasharray:"3,2.5"},B:{stroke:"#1a2fd0",strokeWidth:2.4},none:{stroke:"none"}
};
const TEXT={P:"#7a2aa8",p:"#7a2aa8",q:"#b040c0",K:"#111",k:"#222",R:"#f01a1a",r:"#f04040",R0:"#f01a1a",O:"#ff9f20",o:"#ffa840",Y:"#c8c820",B:"#1a2fd0",none:"#222"};
const group=v=>String(v).replace(/\B(?=(\d{3})(?!\d))/g," ");
const fmtTick=v=>group(Math.trunc(v));
const fmtPrice=(v,d=1)=>{const [a,b]=v.toFixed(d).split(".");return group(a)+","+b;};
const toCandles=(rows,start=0)=>rows.map((r,k)=>({i:k+start,o:r[0],c:r[1],h:r[2],l:r[3]}));
const pts=(a,b)=>a.map((x,k)=>({x,y:b[k]}));

function el(x,y,w,h,css="",html=""){const d=document.createElement("div");d.style.cssText=`left:${x}px;top:${y}px;`+(w!=null?`width:${w}px;`:"")+(h!=null?`height:${h}px;`:"")+css;d.innerHTML=html;stage.appendChild(d);return d;}
const candleIcon=(s=1)=>`<svg width="${22*s}" height="${20*s}" style="position:static" viewBox="0 0 22 20"><path d="M7 4V18M16 1V16" stroke="#333"/><rect x="3" y="8" width="7" height="7" fill="#e04848" stroke="#444"/><rect x="12" y="3" width="7" height="10" fill="#40c840" stroke="#444"/></svg>`;
function headerBar(x,y,w,h,cfg){
  const bg=cfg.active?"linear-gradient(#bfdff7,#9fc3dc)":"linear-gradient(#e8f5fb,#b9d3e2)";
  el(x,y,w,h,`background:${bg};border-bottom:1px solid #5f7688`);
  el(x+3,y+1,22,h,"",candleIcon(.9));
  el(x+23,y+1,14,h,`font:bold ${h-5}px/${h-2}px ${FONT};color:#667;`,"8");
  el(x+cfg.symX,y,null,h,`font:bold ${cfg.fs||12}px/${h}px ${FONT};`,cfg.sym+" <span style='font-size:8px'>▼</span>");
  el(x+cfg.tfX,y,null,h,`font:bold ${cfg.fs||12}px/${h}px ${FONT};`,cfg.tf+" <span style='font-size:8px'>▼</span>");
  el(x+cfg.unX,y,null,h,`font:${cfg.fs||12}px/${h}px ${FONT};`,cfg.un+" <span style='font-size:8px'>▼</span>");
  for(const sx of [cfg.symX-3,cfg.tfX-3,cfg.unX-3,cfg.infoX-4]) el(x+sx,y,1,h,"background:#8fa6b5");
  el(x+cfg.infoX,y+(h-13)/2,11,13,`border:1px solid #99a;font:bold 10px/11px ${FONT};text-align:center;color:#889;background:#eef4f8`,"i");
  el(x+w-58,y,16,h,`font:bold ${h-5}px/${h-1}px "DejaVu Sans";color:#e03030`,"↻");
  el(x+w-40,y,40,h,`font:${h-8}px/${h}px "DejaVu Sans";color:#8a9aa6;letter-spacing:1px`,"_ □ ✕");
}
function gainRow(x,y,w,h,xs,vals=["0,00 €","0,00 €"]){
  el(x,y,w,h,`background:#fff;border-bottom:1px solid #9fb0ba`);
  const f=`font:12px/${h}px ${FONT}`;
  el(x+xs[0],y,null,h,f,`Gain latent : <b>${vals[0]}</b>`);
  el(x+xs[1],y,null,h,f,`Gain Jour : <b>${vals[1]}</b>`);
  el(x+xs[2],y,null,h,f,`Durée pos. : -`);
}

// ---------- one price pane + one indicator pane, through Plot's own scales ----------
function pane(c){
  const W=c.w,R=c.x+c.w-c.axisX,H=c.split-c.top,[a,b]=c.xDomain,[lo,hi]=c.yDomain;
  const ux=(b-a)/(W-R),uy=(hi-lo)/H,fs=c.fs||12,boxW=c.boxW||38,boxH=c.boxH||13;
  const marks=[];
  marks.push(Plot.ruleY(c.grid,{y:d=>d,stroke:"#e6e6e6",strokeWidth:1.5,x1:a,x2:b}));
  marks.push(Plot.text([c.title],{frameAnchor:"top-right",dx:-(c.wmDx??12),dy:c.wmDy??5,text:d=>d,fontSize:c.wmSize||22,fill:"#e2e2e2",fontFamily:FONT}));
  marks.push(Plot.text(["IT-Finance.com - Temps Réel"],{frameAnchor:"bottom-left",dx:2,dy:-3,text:d=>d,fontSize:c.itSize||11.5,fill:"#222",fontFamily:FONT}));
  for(const [lab,p,kind,from] of c.levels){
    marks.push(Plot.ruleY([p],{y:d=>d,x1:from==null?a:from,x2:b,...KIND[kind]}));
  }
  if(c.ma) marks.push(Plot.line(pts(...c.ma),{x:"x",y:"y",stroke:"#f74f4f",strokeWidth:c.maW||2,strokeOpacity:.85,curve:"linear"}));
  if(c.maDash) marks.push(Plot.line(pts(...c.maDash),{x:"x",y:"y",stroke:"#ee8f8f",strokeWidth:1.3,strokeDasharray:"3,2"}));
  const cd=c.candles,bw=.36;
  marks.push(Plot.ruleX(cd,{x:"i",y1:"l",y2:"h",stroke:"#111",strokeWidth:1,clip:true}));
  marks.push(Plot.rect(cd,{x1:d=>d.i-bw,x2:d=>d.i+bw,y1:"o",y2:"c",fill:d=>d.c>=d.o?GREEN:RED,stroke:"#111",strokeWidth:.9,clip:true}));
  for(const [lab,p,kind] of c.levels){ if(lab) marks.push(Plot.text([lab],{x:b,y:p,dx:-6,dy:-(c.labDy||8),text:d=>d,textAnchor:"end",fontSize:fs,fill:TEXT[kind],fontFamily:FONT})); }
  for(const [tx,p,t,col,anchor] of (c.texts||[])) marks.push(Plot.text([t],{x:tx,y:p,text:d=>d,textAnchor:anchor||"start",fontSize:fs,fill:col,fontFamily:FONT}));
  marks.push(Plot.axisY(c.ticks,{anchor:"right",label:null,tickFormat:fmtTick,tickSize:4,tickPadding:3,fontSize:fs+.5,fontFamily:FONT,stroke:"#667"}));
  if(c.bold.length) marks.push(Plot.axisY(c.bold,{anchor:"right",label:null,tickFormat:fmtTick,tickSize:4,tickPadding:3,fontSize:fs+2,fontWeight:"bold",fontFamily:FONT,stroke:"#667"}));
  marks.push(Plot.frame({stroke:"#a9b4bb"}));
  // boxes on the price axis
  const boxes=[];
  for(const [lab,p,kind,from,bp] of c.levels){ if(bp===false||kind==="none")continue; boxes.push({t:fmtPrice(p,c.dec||1),p:bp==null?p:bp,col:TEXT[kind],bg:"#f2f3f3",bd:"#a8b2b8"}); }
  for(const [t,p,col] of (c.extraBoxes||[])) boxes.push({t,p,col,bg:"#f2f3f3",bd:"#a8b2b8"});
  boxes.push({t:c.current[0],p:c.current[1],col:"#222",bg:"#f4c20d",bd:"#d8a800"});
  boxes.push({t:c.timer[0],p:c.timer[1],col:"#222",bg:"#8ee08a",bd:"#8ee08a",w:c.timerW});
  for(const bx of boxes){
    const x0=b+4*ux,x1=b+(bx.w||boxW)*ux+4*ux,dy=boxH/2*uy;
    marks.push(Plot.rect([bx],{x1:x0,x2:x1,y1:d=>d.p-dy,y2:d=>d.p+dy,fill:bx.bg,stroke:bx.bd,strokeWidth:1}));
    marks.push(Plot.text([bx],{x:x0,dx:2,y:"p",text:"t",textAnchor:"start",fontSize:c.boxFs||fs,fill:bx.col,fontFamily:FONT}));
  }
  const svg=Plot.plot({width:W,height:H,marginTop:0,marginBottom:0,marginLeft:0,marginRight:R,
    x:{domain:c.xDomain,axis:null},y:{domain:c.yDomain,axis:null},
    style:{background:"#fff",fontFamily:FONT,overflow:"visible"},marks});
  svg.style.left=c.x+"px";svg.style.top=c.top+"px";stage.appendChild(svg);
  // indicator pane and time axis
  const H2=c.axisBottom-c.split,mb=c.axisBottom-c.indBottom,[rlo,rhi]=c.rsiDomain,ruy=(rhi-rlo)/(H2-mb);
  const m2=[];
  m2.push(Plot.ruleY([100],{y:d=>d,stroke:"#e8e8e8",strokeWidth:1.5,x1:a,x2:b}));
  for(const [v,col,wd,dash] of c.rsiLevels) m2.push(Plot.ruleY([v],{y:d=>d,x1:a,x2:b,stroke:col,strokeWidth:wd,strokeDasharray:dash||null}));
  if(c.rsiFill) m2.push(Plot.areaY(c.rsiFill.map(([x,y])=>({x,y})),{x:"x",y1:25,y2:"y",fill:"#bcdcbc"}));
  if(c.rsiMa) m2.push(Plot.line(pts(...c.rsiMa),{x:"x",y:"y",stroke:"#ea7a7a",strokeWidth:1.7}));
  m2.push(Plot.line(pts(...c.rsi),{x:"x",y:"y",stroke:c.rsiCol||"#555",strokeWidth:c.rsiW||1.5}));
  m2.push(Plot.axisY(c.rsiTicks,{anchor:"right",label:null,tickSize:4,tickPadding:3,fontSize:fs+.5,fontFamily:FONT,stroke:"#667"}));
  m2.push(Plot.axisY([100],{anchor:"right",label:null,tickSize:4,tickPadding:3,fontSize:fs+3,fontWeight:"bold",fontFamily:FONT,stroke:"#667"}));
  for(const [t,v,col] of c.rsiBoxes){
    const x0=b+4*ux,x1=x0+(c.rsiBoxW||30)*ux,dy=(boxH/2)*ruy;
    m2.push(Plot.rect([v],{x1:x0,x2:x1,y1:d=>d-dy,y2:d=>d+dy,fill:"#f2f3f3",stroke:"#a8b2b8"}));
    m2.push(Plot.text([t],{x:x0,dx:2,y:v,text:d=>d,textAnchor:"start",fontSize:fs,fill:col,fontFamily:FONT}));
  }
  m2.push(Plot.frame({stroke:"#a9b4bb"}));
  const reg=c.time.filter(t=>!t[2]),bol=c.time.filter(t=>t[2]);
  const tf=l=>d=>(l.find(t=>t[0]===d)||[,""])[1];
  m2.push(Plot.axisX(reg.map(t=>t[0]),{anchor:"bottom",label:null,tickFormat:tf(reg),tickSize:3,tickPadding:2,fontSize:fs,fontFamily:FONT,stroke:"#667"}));
  if(bol.length) m2.push(Plot.axisX(bol.map(t=>t[0]),{anchor:"bottom",label:null,tickFormat:tf(bol),tickSize:3,tickPadding:2,fontSize:fs+1.5,fontWeight:"bold",fontFamily:FONT,stroke:"#667"}));
  const svg2=Plot.plot({width:W,height:H2,marginTop:0,marginBottom:mb,marginLeft:0,marginRight:R,
    x:{domain:c.xDomain,axis:null},y:{domain:c.rsiDomain,axis:null},
    style:{background:"#fff",fontFamily:FONT,overflow:"visible"},marks:m2});
  svg2.style.left=c.x+"px";svg2.style.top=c.split+"px";stage.appendChild(svg2);
  // small "scroll" button of the time axis
  el(c.x+c.w-24,c.indBottom+1,22,c.axisBottom-c.indBottom-2,`background:#e9f0f4;border:1px solid #c1ccd3;font:bold 10px/9px "DejaVu Sans";color:#2a6fd0;text-align:center`,"↑<br><span style='color:#333;font-size:8px'>▪▪▪</span>");
  el(c.x,c.top-1,c.w,c.axisBottom-c.top+2,"border-right:1px solid #5f7688;border-bottom:2px solid #5f7688;pointer-events:none");
}
function smallWindow(c){
  headerBar(c.x,c.winTop,c.w,c.hdr,c.head);
  gainRow(c.x,c.winTop+c.hdr,c.w,c.top-c.winTop-c.hdr,c.gainX,c.gainVals);
  pane(c);
}
const rowL={r75:[[75,"#3c3cd6",2],[50,"#5a5af0",1,"3,3"],[25,"#3c3cd6",2]],r70:[[70,"#8f8fe6",1.8],[30,"#6c6cd8",1.8]]};
const topGeom={winTop:163,hdr:20,top:195,split:448,indBottom:510,axisBottom:527};
const botGeom={winTop:530,hdr:17,top:560,split:805,indBottom:866,axisBottom:881};
const rTop={winTop:169,hdr:20,top:202,split:452,indBottom:515,axisBottom:532};
const rBot={winTop:532,hdr:21,top:564,split:807,indBottom:872,axisBottom:888};
const D="Allemagne 40 Cash (1€)";

// ---------- black screen parts and desktop taskbars ----------
const beige="#f0e2c9";
el(0,881,1367,49,`background:${beige}`);
el(1367,1019,1918,61,`background:${beige}`);
el(3286,888,1366,49,`background:${beige}`);
function taskIcons(xs,y,s){
  const [a,b,c2,d]=xs;
  el(a-s/2,y-s/2,s,s,"",`<svg width="${s}" height="${s}" style="position:static" viewBox="0 0 20 20"><rect x="0" y="0" width="9.3" height="9.3" fill="#1f8fe0"/><rect x="10.7" y="0" width="9.3" height="9.3" fill="#38a9ee"/><rect x="0" y="10.7" width="9.3" height="9.3" fill="#1478c8"/><rect x="10.7" y="10.7" width="9.3" height="9.3" fill="#1f8fe0"/></svg>`);
  el(b-s/2,y-s/2,s,s,"",`<svg width="${s}" height="${s}" style="position:static" viewBox="0 0 20 20"><path d="M0 8L10 0L20 8V20H0Z" fill="#0d6fc0"/><path d="M2 8H18V20H2Z" fill="#3fb4f0"/><path d="M2 8L10 15L18 8Z" fill="#fff"/></svg>`);
  el(c2-s/2,y-s/2,s,s,"",`<svg width="${s}" height="${s}" style="position:static" viewBox="0 0 20 20"><circle cx="10" cy="10" r="9.5" fill="#0f74c8"/><path d="M2 11C5 3 17 2 19 10C15 7 9 7 9 12C9 16 14 18 18 15C14 21 3 20 2 11Z" fill="#3fd08a"/></svg>`);
  el(d-s/2-6,y-s/2-9,s+12,s+18,"background:#fbe7e3;border-radius:5px","");
  el(d-s/2,y-s/2,s,s,"",`<svg width="${s}" height="${s}" style="position:static" viewBox="0 0 22 20">${'<path d="M7 4V18M16 0V16" stroke="#333"/><rect x="3" y="8" width="7" height="7" fill="#e86060" stroke="#555"/><rect x="12" y="3" width="7" height="10" fill="#48d048" stroke="#555"/>'}</svg>`);
  el(d-s/4,y+s/2+3,s/2,4,"background:#c8281e;border-radius:2px");
}
taskIcons([617,662,706,750],906,26);
taskIcons([2243,2299,2354,2409],1050,28);
taskIcons([3903,3947,3991,4037],913,26);
el(3170,1028,90,24,`text-align:right;font:15px/24px ${FONT};color:#333`,"12:02");
el(3150,1050,110,22,`text-align:right;font:15px/22px ${FONT};color:#333`,"14/06/2022");
el(4540,895,95,20,`text-align:right;font:12px/20px ${FONT};color:#444`,"12:02");
el(4540,913,95,20,`text-align:right;font:12px/20px ${FONT};color:#444`,"14/06/2022");
el(3079,1034,120,30,`font:17px/30px "DejaVu Sans";color:#333`,"⌃ &nbsp;🖵 &nbsp;🔇");

// ---------- platform top bars ----------
el(1367,0,1918,25,"background:linear-gradient(#e9f6fb,#cfe4ee);border-bottom:2px solid #5f7688");
el(1367,0,96,25,"background:#1f2b35");
el(1372,0,90,14,`font:bold 12.5px/15px ${FONT};color:#7ee01e`,"ProRealTime");
el(1372,13,90,12,`font:11px/12px ${FONT};color:#eee`,"Complete");
[["Fichier",1469],["Affichage",1514],["Trading",1574],["Objets",1624],["Réglages",1667],["Aide",1724]].forEach(([t,x])=>el(x,0,null,25,`font:13px/25px ${FONT}`,t));
el(1772,1,198,23,`background:#fff;font:italic 12px/23px ${FONT};color:#9aa;padding-left:4px`,"Recherche ...");
el(1755,2,16,22,`font:bold 10px/9px ${FONT};color:#889;text-align:center`,"8<br>8");
el(3030,0,null,25,`font:13px/25px ${FONT}`,"Mon espace");
el(3100,3,10,19,"background:linear-gradient(#3db03d,#78d878);border:1px solid #357");
el(3114,0,null,25,`font:13px/25px ${FONT}`,"Push+");
el(3153,6,10,13,"background:#8ed88e;border:1px solid #357");
el(3167,0,null,25,`font:13px/25px ${FONT}`,"DealThru");
el(3245,0,40,25,`font:15px/24px "DejaVu Sans";color:#8a9aa6`,"_ □ ✕");
el(2975,3,20,20,`font:bold 15px/20px "DejaVu Sans";color:#d02828;background:#b5c5cf;text-align:center`,"✎");
el(3005,4,13,17,"background:#ffd21e;clip-path:polygon(0 0,100% 15%,100% 75%,15% 70%,15% 100%,0 100%)");
el(1367,25,1918,32,"background:#c8dae4;border-bottom:2px solid #5f7688");
// toolbar glyphs
const tool=[["╱","#111",1382],["▲","#555",1407],["⚒","#444",1434],["🗑","#555",1460],["▲","#f0c000",1486],["▲","#f0c000",1511],["╱","#f01010",1534],["—","#111",1555],["┃","#111",1589],["○","#20b020",1618],["○","#e02020",1645],["≡","#2a6fd0",1668],["T","#223",1694],["△","#20a040",1720],["●","#f09070",1746],["□","#2a6fd0",1772],["⋀","#2a6fd0",1796],["↺","#2a6fd0",1826],["∩","#d02020",1850],["🔒","#c09020",1875],["⩘","#20a020",1900],["⩗","#d02020",1928],["╱","#333",1952],["▤","#889",1978],["≡","#2a6fd0",2005],["━","#0a1fd0",2034]];
tool.forEach(([t,col,x])=>el(x,27,22,28,`font:17px/28px "DejaVu Sans";color:${col};text-align:center`,t));

// ---------- main 2-minute window ----------
smallWindow({...{x:1367,w:1508,winTop:57,hdr:25,top:98,split:779,indBottom:999,axisBottom:1019,axisX:2823},
  head:{active:true,sym:"DAX",tf:"2 minutes",un:"150 unités",symX:47,tfX:93,unX:170,infoX:244,fs:13},
  gainX:[315,722,1123],
  xDomain:[-5.65,165.6],yDomain:[13333.3,13633.7],rsiDomain:[-5.3,110.7],
  title:D,wmDx:10,wmDy:3,wmSize:21,itSize:12.5,
  candles:toCandles(dax2m,-5),levels:lv2m,ma:[maThickN,maThickV],maW:3.2,maDash:[maDashN,maDashV],
  grid:[13600,13500,13400],
  ticks:[13580,13560,13540,13520,13480,13460,13440,13420,13380,13360],bold:[13600,13500,13400],
  fs:13,boxFs:14,boxW:45,boxH:16,labDy:9,
  texts:[[-5.6,13349.5,"Bas M","#111"],[80.1,13349.5,"Bas S","#111","middle"]],
  extraBoxes:[["13 376,0",13375,"#ee6a6a"]],
  current:["13 346,1",13345.5],timer:["2m00s",13329],timerW:34,
  rsi:[rsi2mN,rsi2mV],rsiCol:"#222",rsiW:1.1,rsiMa:[rsiMa2mN,rsiMa2mV],
  rsiLevels:[[75,"#2020d0",1.8],[70,"#2020d0",1.2],[50,"#2020d0",1.8,"2.5,2.5"],[30,"#2020d0",1.8],[25,"#2020d0",1.2]],
  rsiFill:[[58,25],[60,22],[61,19.3],[62,25]],
  rsiTicks:[80,60,40,20],rsiBoxes:[["35,956",35.9,"#e86a6a"],["26,854",26.9,"#222"]],rsiBoxW:34,
  time:time2m});

// ---------- left column ----------
smallWindow({x:0,w:459,...topGeom,axisX:418,head:{sym:"DAX",tf:"1 jour",un:"50 unités",symX:38,tfX:75,unX:117,infoX:176},gainX:[66,205,339],
  xDomain:[-49.8,9.6],yDomain:[13184,15461],rsiDomain:[-5,115.6],title:D,wmDx:8,candles:toCandles(dax1d,-49),levels:lv1d,ma:[ma1dI,ma1dV],
  grid:[15000,14000],ticks:[15200,15000,14800,14600,14400,14200,13800],bold:[14000],
  texts:[[-49.6,14908,"14 860,0","#f01a1a"]],extraBoxes:[["14 910,0",14858,"#f01a1a"]],current:["13 346,1",13427],timer:["12h58m",13310],
  rsi:[rsi1dI,rsi1dV],rsiLevels:rowL.r75,rsiTicks:[50],rsiBoxes:[["30,269",29.9,"#222"]],rsiFill:null,time:time1d});
smallWindow({x:461,w:456,...topGeom,axisX:874,head:{sym:"DAX",tf:"4 heures",un:"50 unités",symX:37,tfX:74,unX:131,infoX:190},gainX:[64,202,335],
  xDomain:[-0.63,58.6],yDomain:[13283,14853],rsiDomain:[-5,115.6],title:D,wmDx:8,candles:toCandles(dax4h),levels:lv4h,ma:[ma4hI,ma4hV],
  grid:[14000],ticks:[14800,14600,14400,14200,13800,13600,13400],bold:[14000],
  extraBoxes:[["14 075,0",14042,"#f01a1a"]],current:["13 346,1",13395],timer:["58m00s",13312],timerW:40,
  rsi:[rsi4hI,rsi4hV],rsiFill:rsi4hFill,rsiLevels:rowL.r75,rsiTicks:[50],rsiBoxes:[["22,375",22.4,"#222"]],time:time4h});
smallWindow({x:916,w:450,...topGeom,axisX:1325,head:{sym:"DAX",tf:"1 heure",un:"50 unités",symX:37,tfX:74,unX:126,infoX:183},gainX:[63,200,333],
  xDomain:[-0.63,58.7],yDomain:[13292,14569],rsiDomain:[-5,115.6],title:D,wmDx:8,candles:toCandles(dax1h),levels:lv1h,ma:[ma1hI,ma1hV],
  grid:[14000],ticks:[14400,14200,13800,13600,13400],bold:[14000],
  extraBoxes:[["14 245,1",14215,"#f01a1a"]],current:["13 346,6",13385],timer:["58m00s",13321],timerW:40,
  rsi:[rsi1hI,rsi1hV],rsiLevels:rowL.r75,rsiTicks:[50],rsiBoxes:[["32,231",32.5,"#222"]],time:time1h});
smallWindow({x:461,w:456,...botGeom,axisX:874,head:{sym:"DAX",tf:"15 minutes",un:"50 unités",symX:37,tfX:74,unX:141,infoX:200},gainX:[64,202,335],
  xDomain:[-0.6,58.6],yDomain:[13324.8,13803],rsiDomain:[-6,115],title:D,wmDx:8,wmDy:2,candles:toCandles(dax15m),levels:lv15m,ma:[ma15mI,ma15mV],
  grid:[13500],ticks:[13700,13650,13600,13550,13450,13400],bold:[13500],
  extraBoxes:[["13 609,2",13608,"#f01a1a"]],current:["13 346,1",13361],timer:["13m00s",13335],timerW:36,
  rsi:[rsi15mI,rsi15mV],rsiLevels:rowL.r75,rsiTicks:[50],rsiBoxes:[["25,795",26,"#222"]],time:time15m});
smallWindow({x:916,w:450,...botGeom,axisX:1326,head:{sym:"DAX",tf:"5 minutes",un:"50 unités",symX:37,tfX:74,unX:136,infoX:196},gainX:[63,200,333],
  xDomain:[-0.7,57.97],yDomain:[13332.8,13634],rsiDomain:[-6,115],title:D,wmDx:8,wmDy:2,candles:toCandles(dax5m),levels:lv5mL,ma:[ma5mI,ma5mV],
  grid:[13500],ticks:[13600,13550,13450,13400],bold:[13500],
  extraBoxes:[["13 485,0",13479,"#f01a1a"]],current:["13 346,1",13355],timer:["3m00s",13339],timerW:30,
  rsi:[rsi5mI,rsi5mV],rsiLevels:rowL.r70,rsiTicks:[50],rsiBoxes:[["26,939",26.3,"#222"]],time:time5m});

// ---------- orders and lists ----------
el(0,530,459,181,"background:#c9d9e3;border-bottom:3px solid #5f7688");
el(0,530,459,18,"background:linear-gradient(#e8f5fb,#b9d3e2);border-bottom:1px solid #5f7688");
el(3,531,18,17,"",candleIcon(.75));
el(24,530,null,18,`font:12px/18px ${FONT}`,"Ordres en attente <b>0</b>");
el(123,530,null,18,`font:12px/18px ${FONT}`,"Aujourd'hui <span style='font-size:8px'>▼</span>");
el(181,531,116,16,`background:#fff;font:italic 11.5px/16px ${FONT};color:#aab;padding-left:2px`,"Filtrer les ordres ...");
el(308,530,null,18,`font:12px/18px ${FONT}`,"Données indicatives <span style='color:#2a8fe0'>●</span>");
el(420,530,40,18,`font:10px/18px "DejaVu Sans";color:#8a9aa6`,"_ □ ✕");
let tx=1;orderTabs.forEach((t,k)=>{const w=[54,58,82,61,97,37][k];el(tx,548,w,16,`background:${k?"#eef4f8":"#2a7fd8"};border:1px solid #b5c4cf;font:12px/15px ${FONT};text-align:center;color:${k?"#222":"#fff"}`,t);tx+=w+1;});
el(0,564,459,17,"background:#5b88b8");
[57,104,155,207,262,347,400,428].forEach((x,k)=>el(x-16,564,58,17,`font:12px/17px ${FONT};color:#fff;text-align:center`,orderCols[k]));
el(0,712,459,20,"background:linear-gradient(#e8f5fb,#b9d3e2);border-bottom:1px solid #5f7688");
el(3,713,18,17,"",candleIcon(.75));
el(24,712,null,20,`font:12px/20px ${FONT}`,"Listes");
el(55,712,null,20,`font:bold 12px/20px ${FONT}`,"Indices Majeurs(1) (8) <span style='font-size:8px'>▼</span>");
el(420,712,40,20,`font:10px/20px "DejaVu Sans";color:#8a9aa6`,"_ □ ✕");
el(0,732,459,15,"background:#5b88b8");
el(78,732,null,15,`font:12px/15px ${FONT};color:#fff`,"▲ Nom");
el(168,732,124,15,`font:12px/15px ${FONT};color:#fff;text-align:center`,"Dernier");
el(292,732,43,15,`font:12px/15px ${FONT};color:#fff;text-align:center`,"Var");
el(335,732,124,15,`font:12px/15px ${FONT};color:#fff;text-align:center`,"%Var");
listNames.forEach((n,k)=>{
  const y=747+k*16.8,h=16.8,col=listVar[k][0]==="-"?"#a83c28":"#3a9a30";
  el(0,y,168,h,`background:${k===0?"#fbc468":(k%2?"#dee5ec":"#dfecf5")};font:12px/17px ${FONT};padding-left:15px`,n);
  el(168,y,124,h,`background:${listTint[k]};font:12px/17px ${FONT};color:${col};text-align:right;padding-right:2px`,listLast[k]);
  el(292,y,43,h,`background:${listTint[k]};border-left:1px solid #aab;font:12px/17px ${FONT};color:${col};text-align:right;padding-right:1px`,listVar[k]);
  el(335,y,124,h,`background:${listTint[k]};border-left:1px solid #aab;font:12px/17px ${FONT};color:${col};text-align:right;padding-right:2px`,listPct[k]);
});
el(0,712,459,169,"border-bottom:2px solid #5f7688;border-right:1px solid #5f7688");

// ---------- right column ----------
const g1=[75,202,325],g2=[65,202,336];
smallWindow({x:3286,w:455,...rTop,axisX:3705,head:{sym:"UKX",tf:"5 minutes",un:"50 unités",symX:38,tfX:75,unX:136,infoX:194},gainX:g1,gainVals:["-","-"],
  xDomain:[-0.6,58.6],yDomain:[7170.4,7283],rsiDomain:[-8,115],title:"FTSE 100 Cash (1€)",wmDx:8,candles:toCandles(ukx5m),levels:lvUkx,ma:[maUkxI,maUkxV],
  grid:[7250],ticks:[7280,7270,7260,7240,7230,7220,7210,7200,7190],bold:[7250],
  extraBoxes:[["7 231,3",7231.2,"#f01a1a"]],current:["7 174,9",7181],timer:["3m01s",7175],timerW:30,
  rsi:[rsiUkxI,rsiUkxV],rsiLevels:rowL.r70,rsiTicks:[50],rsiBoxes:[["20,584",20,"#222"]],time:time5m});
smallWindow({x:3741,w:455,...rTop,axisX:4160,head:{sym:"PXI",tf:"5 minutes",un:"50 unités",symX:38,tfX:70,unX:131,infoX:188},gainX:g1,gainVals:["-","-"],
  xDomain:[-0.6,58.6],yDomain:[5952.2,6108.7],rsiDomain:[-8,115],title:"France 40 Cash (1€)",wmDx:8,candles:toCandles(pxi5m),levels:lvPxi,ma:[maPxiI,maPxiV],
  grid:[6000],ticks:[6080,6060,6040,6020,5980],bold:[6000],
  current:["5 958,3",5963.4],timer:["3m01s",5955],timerW:30,
  rsi:[rsiPxiI,rsiPxiV],rsiLevels:rowL.r70,rsiTicks:[50],rsiBoxes:[["24,289",24.4,"#222"]],time:time5m});
smallWindow({x:4196,w:456,...rTop,axisX:4611,head:{sym:"DAX",tf:"5 minutes",un:"50 unités",symX:38,tfX:74,unX:135,infoX:192},gainX:g2,
  xDomain:[-0.6,58.6],yDomain:[13333.3,13634.9],rsiDomain:[-8,115],title:D,wmDx:8,candles:toCandles(dax5m),levels:lv5mR,ma:[ma5mI,ma5mV],
  grid:[13500],ticks:[13600,13550,13450,13400],bold:[13500],
  current:["13 346,1",13355],timer:["3m00s",13339],timerW:30,
  rsi:[rsi5mI,rsi5mV],rsiLevels:rowL.r70,rsiTicks:[50],rsiBoxes:[["26,939",26.3,"#222"]],time:time5m});
smallWindow({x:3286,w:455,...rBot,axisX:3700,head:{sym:"SPTRD",tf:"5 minutes",un:"50 unités",symX:38,tfX:85,unX:147,infoX:206},gainX:g1,gainVals:["-","-"],
  xDomain:[-0.5,58.6],yDomain:[3763.4,3810.2],rsiDomain:[-9.5,115.5],title:"US 500 Cash (1€)",wmDx:8,wmDy:2,dec:2,candles:toCandles(sp5m),levels:lvSp,ma:[maSpI,maSpV],
  grid:[3800],ticks:[3805,3795,3790,3785,3780,3775,3770],bold:[3800],
  extraBoxes:[["3 774,65",3774.5,"#f01a1a"]],current:["3 765,41",3766.9],timer:["3m01s",3764.4],timerW:28,
  rsi:[rsiSpI,rsiSpV],rsiLevels:rowL.r70,rsiTicks:[50],rsiBoxes:[["34,347",33,"#222"]],time:time5m});
smallWindow({x:3741,w:455,...rBot,axisX:4156,head:{sym:"DOW",tf:"5 minutes",un:"50 unités",symX:38,tfX:77,unX:138,infoX:198},gainX:g1,gainVals:["-","-"],
  xDomain:[-0.5,58.6],yDomain:[30591.5,30910],rsiDomain:[-9.5,115.5],title:"Wall Street Cash (1€)",wmDx:8,wmDy:2,candles:toCandles(dow5m),levels:lvDow,ma:[maDowI,maDowV],
  grid:[30700],ticks:[30900,30850,30800,30750,30650],bold:[30700],
  extraBoxes:[["30 675,0",30674.4,"#f01a1a"]],current:["30 606,9",30617.7],timer:["3m00s",30600.7],timerW:30,
  rsi:[rsiDowI,rsiDowV],rsiLevels:rowL.r70,rsiTicks:[50],rsiBoxes:[["34,535",34.5,"#222"]],time:time5m});
smallWindow({x:4196,w:456,...rBot,axisX:4611,head:{sym:"NASDAQ",tf:"5 minutes",un:"50 unités",symX:38,tfX:93,unX:155,infoX:214},gainX:g2,
  xDomain:[-0.6,58.6],yDomain:[11359.5,11517],rsiDomain:[-9.5,115.5],title:"US Tech 100 Cash (1€)",wmDx:8,wmDy:2,candles:toCandles(nas5m),levels:lvNas,ma:[maNasI,maNasV],
  grid:[11400],ticks:[11480,11460,11440,11420,11380],bold:[11500,11400],
  extraBoxes:[["11 386,3",11386,"#f01a1a"]],current:["11 366,3",11371.4],timer:["3m00s",11363],timerW:30,
  rsi:[rsiNasI,rsiNasV],rsiLevels:rowL.r70,rsiTicks:[50],rsiBoxes:[["36,542",36.5,"#222"]],time:time5m});

// ---------- order ticket ----------
const T=(x,y,w,h,css,txt)=>el(x,y,w,h,css,txt);
T(2876,57,409,25,"background:linear-gradient(#e8f5fb,#b9d3e2);border-bottom:2px solid #708595");
el(2879,58,22,24,"",candleIcon(1));
T(2906,58,14,24,`font:bold 19px/24px ${FONT};color:#667`,"8");
T(2923,57,null,25,`font:bold 13px/25px ${FONT}`,"DAX <span style='font-size:8px'>▼</span>");
T(2971,63,11,13,`border:1px solid #99a;font:bold 10px/11px ${FONT};text-align:center;color:#889;background:#eef4f8`,"i");
T(3238,57,46,25,`font:15px/25px "DejaVu Sans";color:#8a9aa6`,"_ □ ✕");
T(2876,82,409,451,"background:#e4ecf2");
T(2982,82,2,231,"background:#b9c4cc");T(3191,82,2,231,"background:#b9c4cc");
T(2885,155,null,18,`font:13px/18px ${FONT}`,"Gain l...");T(2927,155,null,18,`font:bold 13px/18px ${FONT}`,"0,00 €");
T(2885,174,null,18,`font:13px/18px ${FONT}`,"Gain...");T(2927,174,null,18,`font:bold 13px/18px ${FONT}`,"0,00 €");
T(2885,195,null,18,`font:13px/18px ${FONT}`,"O...");T(2927,195,null,18,`font:bold 13px/18px ${FONT}`,"0");T(2958,195,null,18,`font:bold 13px/18px ${FONT}`,"/ 0");
T(2885,219,null,18,`font:13px/18px ${FONT}`,"Po...");T(2927,219,null,18,`font:bold 13px/18px ${FONT};color:#2a9a2a`,"0");T(2958,219,null,18,`font:bold 13px/18px ${FONT}`,"/ 0");
T(2936,196,13,13,"background:#cbd1d6;border:1px solid #b0b8be");T(2936,221,13,12,"background:#f0d8dc;border:1px solid #c8d0d6;");
T(3053,128,78,17,`font:13px/17px ${FONT};text-align:center`,"Qté");
T(3053,145,78,36,`background:#fff;border:1px solid #9aa7b0;border-radius:2px;font:24px/36px ${FONT};text-align:right;padding-right:2px`,"0.5");
T(3000,199,12,12,"background:#d8dfe4;border:1px solid #aab4bc;");
T(3015,196,null,18,`font:13px/18px ${FONT};color:#9aa`,"Sg");
T(3038,192,18,23,`background:#fff;border:1px solid #9aa7b0;border-radius:2px;font:13px/22px ${FONT};text-align:center`,"30");
T(3058,196,null,18,`font:13px/18px ${FONT}`,"pts");
T(3097,198,12,12,"background:#fff;border:1px solid #9aa7b0;border-radius:2px");
T(3113,196,null,18,`font:13px/18px ${FONT}`,"Limite");
T(3149,192,12,23,`background:#eef2f5;border:1px solid #9aa7b0;border-radius:2px;font:13px/22px ${FONT};text-align:center;color:#9aa`,"4");
T(3163,196,null,18,`font:13px/18px ${FONT}`,"pts");
T(2994,267,185,1,"background:#9aa7b0");
T(3010,279,44,23,`background:#fff;border:1px solid #aeb8c0;border-radius:2px;font:13px/22px ${FONT};text-align:right;padding-right:17px;color:#23558a`,"0");
T(3113,279,44,23,`background:#fff;border:1px solid #aeb8c0;border-radius:2px;font:13px/22px ${FONT};text-align:right;padding-right:17px;color:#23558a`,"10");
T(2876,313,109,194,"background:#e9b8b8;border-right:3px solid #9aa7b0");
T(2877,335,108,30,`font:21px/30px ${FONT}`,"Vendre 0,5");
T(2877,399,108,36,`font:26px/36px ${FONT}`,"13 345,9");
T(2916,489,60,18,`font:12.5px/18px ${FONT}`,"+ Sg 30");
T(3191,313,94,194,"background:#abd0a8;border-left:3px solid #9aa7b0;overflow:hidden");
T(3193,335,92,30,`font:21px/30px ${FONT};overflow:hidden`,"Acheter ..");
T(3191,399,94,36,`font:26px/36px ${FONT};overflow:hidden`,"13 347,3");
T(3230,489,55,18,`font:12.5px/18px ${FONT}`,"+ Sg 30");
T(2985,313,206,27,"border-top:1px solid #b0bbc3;border-bottom:1px solid #b0bbc3");
T(3081,313,1,27,"background:#b0bbc3");
T(2985,313,96,27,`font:13px/26px ${FONT};color:#99a3ab;text-align:center`,"Stop à 0 ticks");
T(3082,313,109,27,`font:13px/26px ${FONT};color:#99a3ab;text-align:center`,"Limite à 10 ticks");
T(2985,414,206,24,`font:13.5px/24px ${FONT};color:#99a3ab;text-align:center`,"Pas de position");
T(2876,507,409,26,"background:#eef3f6;border-top:2px solid #9aa7b0;border-bottom:1px solid #9aa7b0");
T(2876,507,41,26,"background:#f3f6f8;border-right:1px solid #9aa7b0;");
T(2878,514,20,13,"background:#f0f0f0;border:1px solid #667;");
T(2917,507,135,26,`font:13px/26px ${FONT};color:#99a3ab;text-align:center`,"Inverser position");
T(3052,507,185,26,`font:13px/26px ${FONT};color:#99a3ab;text-align:center;border-left:1px solid #9aa7b0`,"Pas d'ordres en attente");
T(3237,512,14,14,"background:#e8f2e4;border:1px solid #99a");T(3266,513,12,12,"background:#d8402c;border:1px solid #2a9a2a");
T(2876,533,409,24,"background:linear-gradient(#f1f6f9,#d4e2ea);border-bottom:2px solid #708595");
T(2934,533,null,22,`font:13px/22px ${FONT}`,"Offre <span style='color:#4a90e0'>➜</span><b>0</b>");
T(3038,533,null,22,`font:13px/22px ${FONT}`,"<b>0</b><span style='color:#4a90e0'>⬅</span> Demande");

// ---------- performance window ----------
T(2876,557,409,24,"background:linear-gradient(#e8f5fb,#b9d3e2);border-bottom:1px solid #708595");
el(2879,558,22,22,"",candleIcon(1));
T(2905,557,null,24,`font:13px/24px ${FONT}`,"Performance");
T(2973,557,1,24,"background:#8fa6b5");
T(2978,557,null,24,`font:bold 13px/24px ${FONT};letter-spacing:.3px`,"Tous les instruments <span style='font-size:8px'>▼</span>");
T(3115,557,1,24,"background:#8fa6b5");
T(3121,557,16,24,`font:14px/24px "DejaVu Sans";color:#333`,"🔧︎");
T(3146,557,16,24,`font:14px/24px "DejaVu Sans";color:#e8a800`,"⚠");
T(3238,557,46,24,`font:15px/24px "DejaVu Sans";color:#8a9aa6`,"_ □ ✕");
T(2876,581,409,438,"background:#fff;border-bottom:2px solid #708595");
T(2886,590,86,18,`background:#f1f4f6;border:1px solid #a9b4bb;border-radius:2px;font:13px/17px ${FONT};padding-left:4px`,"Tout le trading <span style='font-size:8px'>▼</span>");
T(2983,590,93,18,`background:#f1f4f6;border:1px solid #a9b4bb;border-radius:2px;font:13px/17px ${FONT};padding-left:4px`,"Tous les trades <span style='font-size:8px'>▼</span>");
T(3090,591,19,18,"background:#f5f7f8;border:1px solid #99b;border-top:4px solid #2a7ab0");
T(3115,590,null,18,`font:13px/18px ${FONT}`,"Aujourd'hui");
const perf=Plot.plot({width:408,height:380,marginTop:0,marginBottom:0,marginLeft:0,marginRight:51,
  x:{domain:[0,1],axis:null},y:{domain:[-0.097,1.1],axis:null},
  style:{background:"#fff",fontFamily:FONT,overflow:"visible"},
  marks:[
   Plot.rect([0],{x1:0,x2:1,y1:0,y2:1.1,fill:"#cff1cb"}),
   Plot.rect([0],{x1:0,x2:1,y1:-0.097,y2:0,fill:"#f3d3d3"}),
   Plot.ruleY([...perfTicks,...perfBold],{y:d=>d,x1:0,x2:1,stroke:"#b5dcb3",strokeWidth:1}),
   Plot.ruleY([0],{y:d=>d,x1:0,x2:1,stroke:"#f05050",strokeWidth:1}),
   Plot.ruleY([0],{y:d=>d,x1:0,x2:1,stroke:"#2040e0",strokeWidth:1,strokeDasharray:"4,4"}),
   Plot.frame({stroke:"#88b49a"}),
   Plot.axisY(perfTicks,{anchor:"right",label:null,tickSize:4,tickPadding:3,tickFormat:d=>String(d).replace(".",","),fontSize:13,fontFamily:FONT,stroke:"#667"}),
   Plot.axisY(perfBold,{anchor:"right",label:null,tickSize:4,tickPadding:3,tickFormat:d=>String(d).replace(".",","),fontSize:13.5,fontWeight:"bold",fontFamily:FONT,stroke:"#667"}),
   Plot.rect([0],{x1:1.01,x2:1.035,y1:-0.03,y2:0.03,fill:"#fff",stroke:"#b0b8be"}),
   Plot.text(["0"],{x:1.0225,y:0,text:d=>d,fontSize:13,fill:"#e05050",fontFamily:FONT}),
   Plot.text(["IT-Finance.com"],{frameAnchor:"bottom-left",dx:2,dy:-2,text:d=>d,fontSize:13,fill:"#222",fontFamily:FONT})
  ]});
perf.style.left="2877px";perf.style.top="618px";stage.appendChild(perf);
T(2880,619,350,20,`font:13px/20px ${FONT}`,"Horizontal: <b>Transactions</b>, Vertical: <b>Devise (€)</b>, Transactions: <b style='color:#2a9a2a'>0</b> <b>/ 0 /</b> <b style='color:#c02020'>0</b>");
T(2877,1000,40,18,`font:bold 13px/18px ${FONT}`,"n/d");
</script></body></html>
